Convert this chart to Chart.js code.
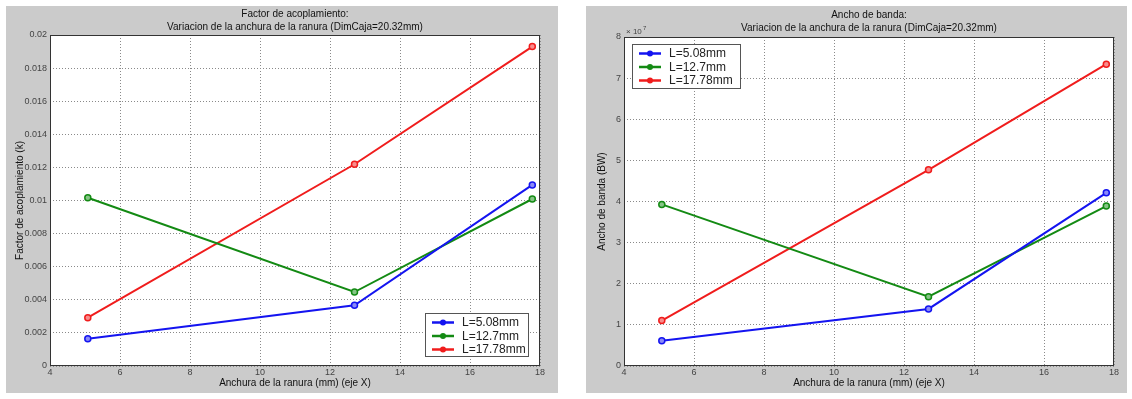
<!DOCTYPE html>
<html>
<head>
<meta charset="utf-8">
<script src="https://cdn.jsdelivr.net/npm/chart.js@4.4.0/dist/chart.umd.min.js"></script>
<style>
  body { margin: 0; background: #fff; width: 1132px; height: 399px; position: relative; overflow: hidden; }
  .panel { position: absolute; top: 6px; height: 387px; background: #cbcbcb; }
  #p1 { left: 6px; width: 552px; }
  #p2 { left: 586px; width: 541px; }
</style>
</head>
<body>
<div class="panel" id="p1"><canvas id="c1"></canvas></div>
<div class="panel" id="p2"><canvas id="c2"></canvas></div>
<script>
// anchura de la ranura (mm)
const anchura = [5.08, 12.7, 17.78];
const seriesNames = ['L=5.08mm', 'L=12.7mm', 'L=17.78mm'];

// factor de acoplamiento (k)
const factorL508 = [0.00165, 0.00367, 0.01094];
const factorL127 = [0.01017, 0.00447, 0.01009];
const factorL1778 = [0.00292, 0.01219, 0.0193];

// ancho de banda (BW), in units of 1e7
const bandaL508 = [0.613, 1.387, 4.21];
const bandaL127 = [3.93, 1.685, 3.89];
const bandaL1778 = [1.105, 4.77, 7.34];

const xTicks = [4, 6, 8, 10, 12, 14, 16, 18];
const factorTicks = [0, 0.002, 0.004, 0.006, 0.008, 0.01, 0.012, 0.014, 0.016, 0.018, 0.02];
const bandaTicks = [0, 1, 2, 3, 4, 5, 6, 7, 8];

const colors = ['#1414f0', '#138a13', '#f01c1c'];
const fills = ['#8a8af8', '#86c486', '#f88c8c'];
const FONT = '"Liberation Sans", Arial, sans-serif';

function makeSets(list, scale) {
  return list.map((vals, i) => ({
    label: seriesNames[i],
    data: vals.map((v, j) => ({ x: anchura[j], y: v * scale })),
    borderColor: colors[i],
    backgroundColor: colors[i],
    pointBackgroundColor: fills[i],
    pointBorderColor: colors[i],
    pointBorderWidth: 1.5,
    pointRadius: 3,
    borderWidth: 2,
    tension: 0,
  }));
}

// white plot area + black frame
const frame = {
  id: 'frame',
  beforeDraw(chart) {
    const { ctx, chartArea: a } = chart;
    ctx.save();
    ctx.fillStyle = '#fff';
    ctx.fillRect(a.left, a.top, a.right - a.left, a.bottom - a.top);
    ctx.restore();
  },
  afterDraw(chart) {
    const { ctx, chartArea: a } = chart;
    ctx.save();
    ctx.strokeStyle = '#333';
    ctx.lineWidth = 1;
    ctx.strokeRect(a.left + 0.5, a.top + 0.5, a.right - a.left - 1, a.bottom - a.top - 1);
    ctx.restore();
  }
};

// matlab-like legend box inside the axes
const boxLegend = {
  id: 'boxLegend',
  afterDraw(chart, args, opts) {
    const { ctx, chartArea: a } = chart;
    const w = opts.width, h = opts.height;
    const x = opts.corner === 'br' ? a.right - opts.dx - w : a.left + opts.dx;
    const y = opts.corner === 'br' ? a.bottom - opts.dy - h : a.top + opts.dy;
    ctx.save();
    ctx.fillStyle = '#fff';
    ctx.fillRect(x, y, w, h);
    ctx.strokeStyle = '#555';
    ctx.lineWidth = 1;
    ctx.strokeRect(x + 0.5, y + 0.5, w - 1, h - 1);
    ctx.font = '12px ' + FONT;
    ctx.textBaseline = 'middle';
    chart.data.datasets.forEach((ds, i) => {
      const ry = y + 9.5 + i * 13.5;
      ctx.strokeStyle = ds.borderColor;
      ctx.lineWidth = 2.5;
      ctx.beginPath();
      ctx.moveTo(x + 7, ry);
      ctx.lineTo(x + 29, ry);
      ctx.stroke();
      ctx.fillStyle = ds.borderColor;
      ctx.beginPath();
      ctx.arc(x + 18, ry, 3, 0, Math.PI * 2);
      ctx.fill();
      ctx.fillStyle = '#222';
      ctx.fillText(ds.label, x + 37, ry + 0.5);
    });
    ctx.restore();
  }
};

// "x 10^7" above the y axis
const exponent = {
  id: 'exponent',
  afterDraw(chart, args, opts) {
    if (!opts.text) return;
    const { ctx, chartArea: a } = chart;
    ctx.save();
    ctx.fillStyle = '#444';
    ctx.font = '8px ' + FONT;
    ctx.textBaseline = 'alphabetic';
    ctx.fillText('\u00d7 10', a.left + 2, a.top - 3);
    ctx.font = '6px ' + FONT;
    ctx.fillText(opts.text, a.left + 19, a.top - 7);
    ctx.restore();
  }
};

function makeChart(id, sets, cfg) {
  return new Chart(document.getElementById(id), {
    type: 'line',
    data: { datasets: sets },
    plugins: [frame, boxLegend, exponent],
    options: {
      responsive: true,
      maintainAspectRatio: false,
      animation: false,
      layout: { padding: { left: 0, right: cfg.padRight, top: 0, bottom: 0 } },
      plugins: {
        legend: { display: false },
        tooltip: { enabled: false },
        title: {
          display: true,
          text: cfg.title,
          fullSize: false,
          color: '#111',
          font: { family: FONT, size: 10, weight: 'normal', lineHeight: 1.25 },
          padding: { top: cfg.titleTop, bottom: cfg.titleBottom },
        },
        boxLegend: cfg.legend,
        exponent: { text: cfg.exponent },
      },
      scales: {
        x: {
          type: 'linear',
          min: 4, max: 18,
          afterBuildTicks: s => { s.ticks = xTicks.map(v => ({ value: v })); },
          afterFit: s => { s.height = 27; },
          ticks: { color: '#444', font: { family: FONT, size: 9 }, padding: 1, maxRotation: 0 },
          grid: { color: '#8a8a8a', drawTicks: false },
          border: { display: false, dash: [1, 2] },
          title: {
            display: true, text: 'Anchura de la ranura (mm) (eje X)', color: '#111',
            font: { family: FONT, size: 10 }, padding: { top: 0, bottom: 4 }
          },
        },
        y: {
          type: 'linear',
          min: 0, max: cfg.yMax,
          afterBuildTicks: s => { s.ticks = cfg.yTicks.map(v => ({ value: v * cfg.scale })); },
          afterFit: s => { s.width = cfg.yWidth; },
          ticks: {
            color: '#444', font: { family: FONT, size: 9 }, padding: 3,
            callback: v => String(+(v / cfg.scale).toFixed(4)),
          },
          grid: { color: '#8a8a8a', drawTicks: false },
          border: { display: false, dash: [1, 2] },
          title: {
            display: true, text: cfg.yTitle, color: '#111',
            font: { family: FONT, size: 10 }, padding: { top: cfg.yTitleLeft, bottom: 0 }
          },
        },
      },
    },
  });
}

makeChart('c1', makeSets([factorL508, factorL127, factorL1778], 1), {
  title: ['Factor de acoplamiento:', 'Variacion de la anchura de la ranura (DimCaja=20.32mm)'],
  yTitle: 'Factor de acoplamiento (k)',
  yMax: 0.02, yTicks: factorTicks, scale: 1,
  yWidth: 44, padRight: 18, titleTop: 2, titleBottom: 2, yTitleLeft: 8,
  legend: { corner: 'br', dx: 11, dy: 9, width: 104, height: 44 },
  exponent: '',
});

makeChart('c2', makeSets([bandaL508, bandaL127, bandaL1778], 1e7), {
  title: ['Ancho de banda:', 'Variacion de la anchura de la ranura (DimCaja=20.32mm)'],
  yTitle: 'Ancho de banda (BW)',
  yMax: 8e7, yTicks: bandaTicks, scale: 1e7,
  yWidth: 38, padRight: 13, titleTop: 3, titleBottom: 3, yTitleLeft: 10,
  legend: { corner: 'tl', dx: 8, dy: 7, width: 109, height: 45 },
  exponent: '7',
});
</script>
</body>
</html>
